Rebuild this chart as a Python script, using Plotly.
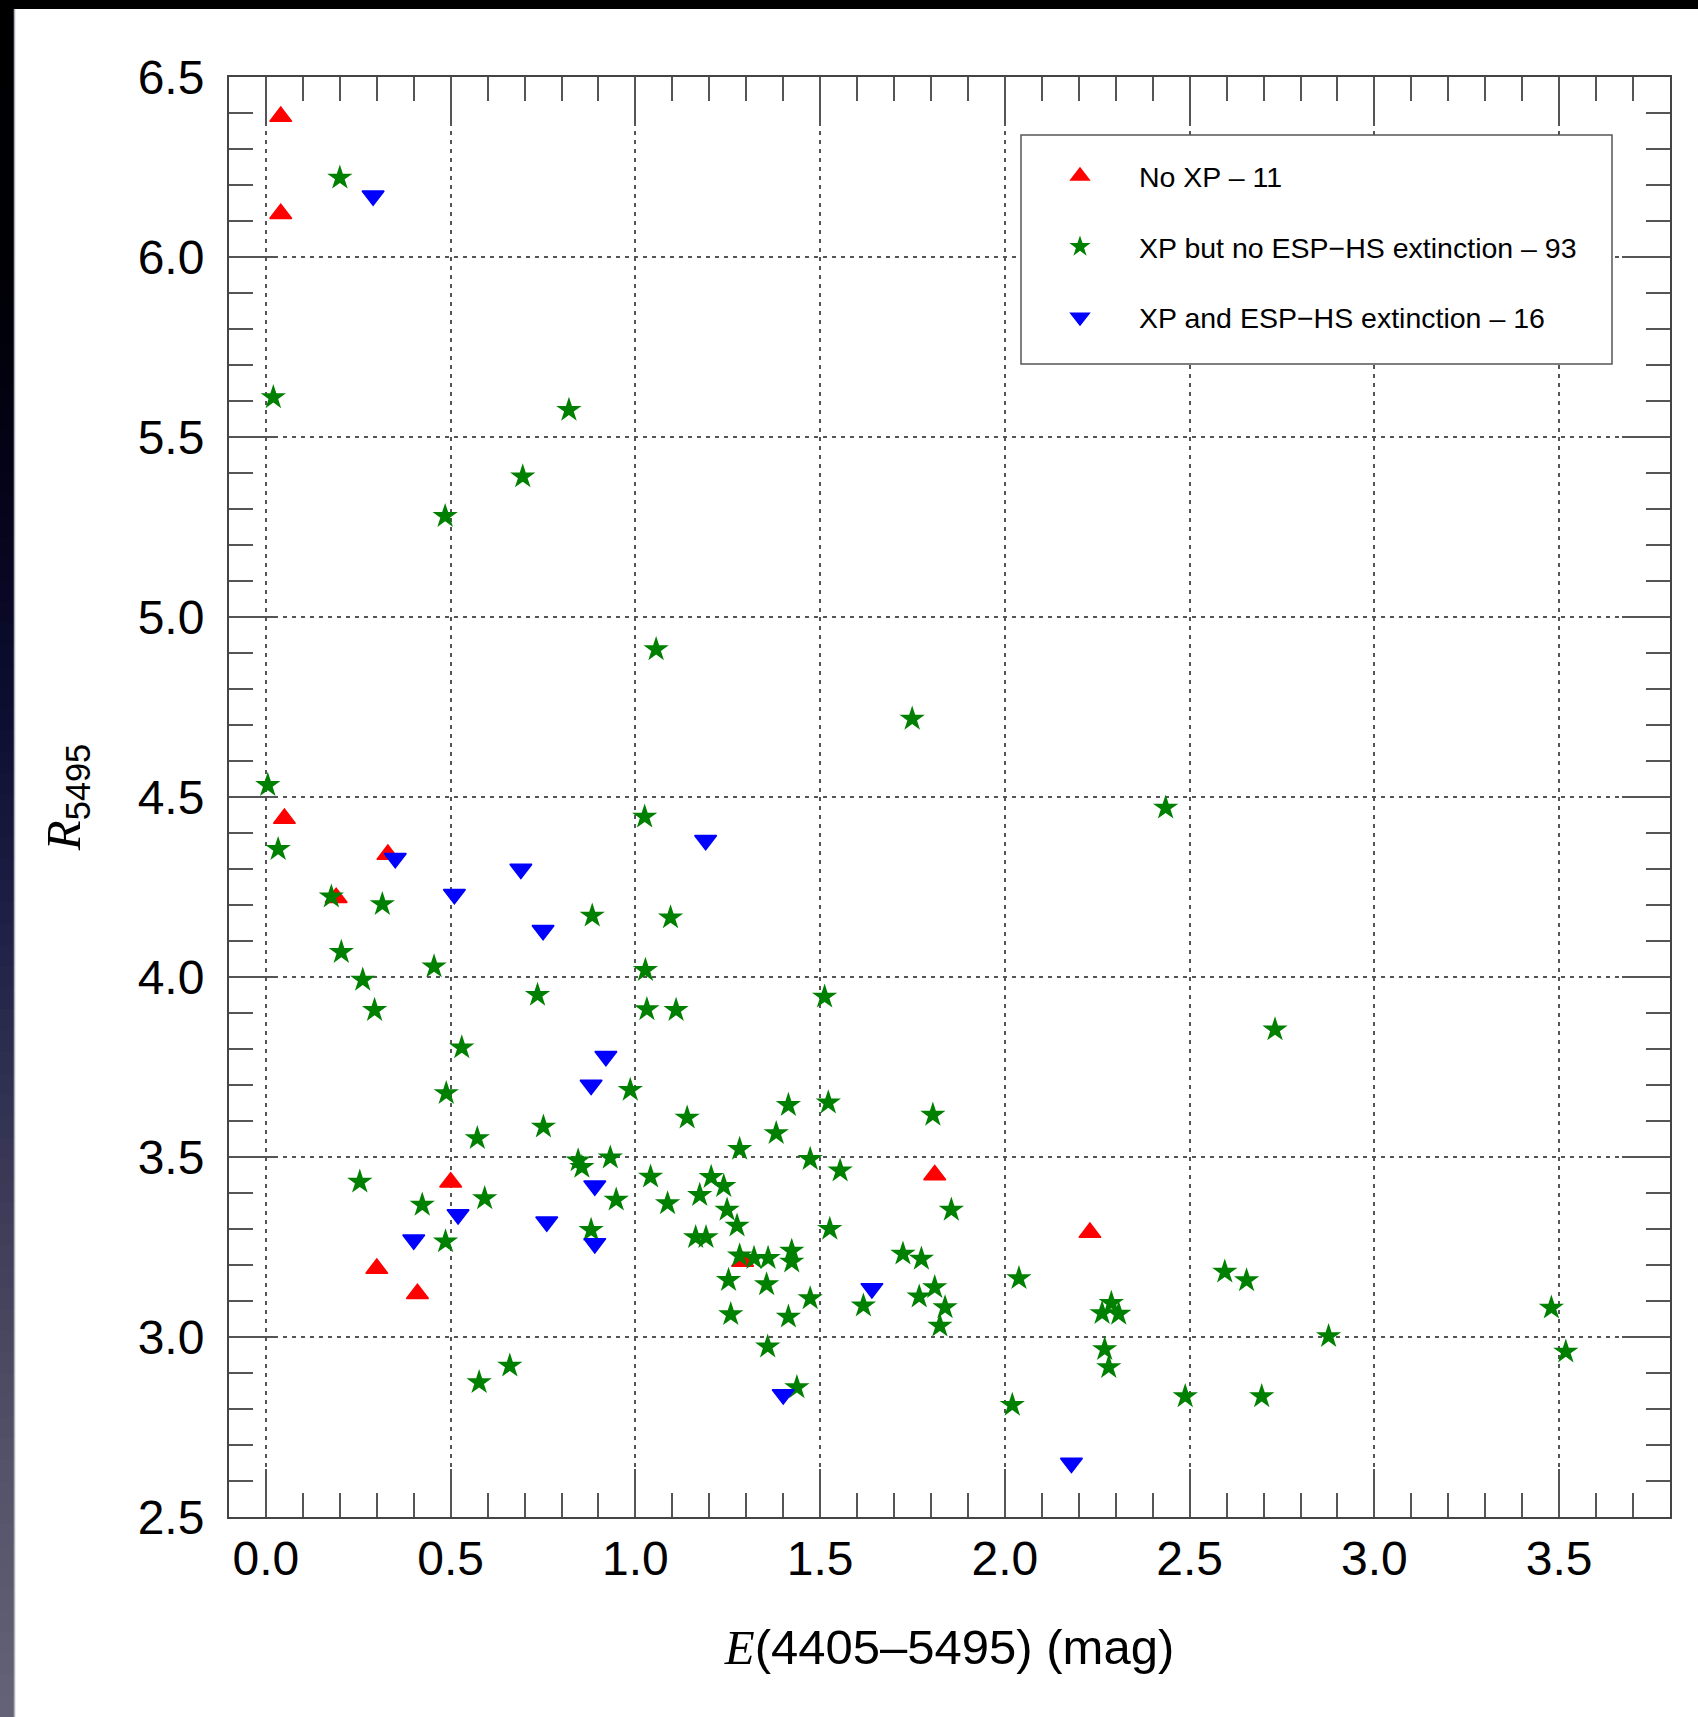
import plotly.graph_objects as go

# ---------------- data ----------------
red_x = [0.04, 0.04, 0.05, 0.33, 0.19, 0.50, 0.30, 0.41, 1.29, 1.81, 2.23]
red_y = [6.39, 6.12, 4.44, 4.34, 4.22, 3.43, 3.19, 3.12, 3.21, 3.45, 3.29]

green_x = [0.20, 0.02, 0.82, 0.695, 0.485, 1.056, 1.749, 2.435,
           0.005, 1.025, 0.033, 0.177, 0.315, 0.883, 1.095,
           0.204, 0.455, 1.027, 0.262, 0.735, 1.512, 0.294,
           1.031, 1.11, 2.731, 0.53, 0.488, 0.986, 1.414,
           1.522, 1.805, 1.14, 0.751, 1.381, 0.572, 1.282,
           0.845, 0.855, 0.932, 1.473, 1.554, 0.254, 1.041,
           1.205, 1.239, 1.174, 0.948, 1.087, 0.423, 0.592,
           1.248, 1.855, 1.275, 1.526, 0.88, 0.486, 1.163,
           1.191, 1.282, 1.321, 1.359, 1.423, 1.423, 1.724,
           1.774, 1.252, 1.355, 1.81, 1.473, 1.617, 1.768,
           1.838, 1.824, 1.258, 1.414, 1.358, 1.437, 2.038,
           2.02, 0.577, 0.66, 2.488, 2.695, 2.876, 2.595,
           2.654, 3.479, 3.518, 2.288, 2.263, 2.308, 2.27, 2.281]
green_y = [6.22, 5.61, 5.575, 5.39, 5.28, 4.91, 4.717, 4.47,
           4.533, 4.445, 4.355, 4.223, 4.202, 4.17, 4.165,
           4.069, 4.029, 4.019, 3.992, 3.95, 3.945, 3.908,
           3.91, 3.908, 3.854, 3.804, 3.677, 3.686, 3.644,
           3.651, 3.617, 3.609, 3.584, 3.566, 3.552, 3.522,
           3.49, 3.472, 3.498, 3.494, 3.462, 3.431, 3.445,
           3.444, 3.419, 3.394, 3.381, 3.371, 3.367, 3.385,
           3.353, 3.353, 3.309, 3.30, 3.297, 3.265, 3.277,
           3.277, 3.226, 3.219, 3.219, 3.239, 3.209, 3.231,
           3.217, 3.158, 3.146, 3.138, 3.107, 3.087, 3.112,
           3.082, 3.031, 3.063, 3.056, 2.973, 2.86, 3.163,
           2.811, 2.874, 2.92, 2.835, 2.835, 3.002, 3.181,
           3.157, 3.081, 2.959, 3.094, 3.066, 3.064, 2.966, 2.916]

blue_x = [0.29, 0.35, 0.51, 0.69, 1.19, 0.75, 0.92, 0.88, 0.89, 0.52, 0.76, 0.40, 0.89, 1.64, 1.40, 2.18]
blue_y = [6.17, 4.33, 4.23, 4.30, 4.38, 4.13, 3.78, 3.70, 3.42, 3.34, 3.32, 3.27, 3.26, 3.135, 2.84, 2.65]

series_names = ["No XP \u2013 11",
                "XP but no ESP\u2212HS extinction \u2013 93",
                "XP and ESP\u2212HS extinction \u2013 16"]

x_ticks = [0.0, 0.5, 1.0, 1.5, 2.0, 2.5, 3.0, 3.5]
y_ticks = [2.5, 3.0, 3.5, 4.0, 4.5, 5.0, 5.5, 6.0, 6.5]

# ---------------- layout geometry ----------------
W, H = 1698, 1717
ML, MR, MT, MB = 229, 28, 77, 200
PW, PH = W - ML - MR, H - MT - MB


def px2x(X):
    return (X - ML) / PW


def px2y(Y):
    return (H - MB - Y) / PH


SANS = "Liberation Sans, Arial, Helvetica, sans-serif"

fig = go.Figure()
fig.add_trace(go.Scatter(
    x=red_x, y=red_y, mode="markers", name=series_names[0], legendgroup="a",
    marker=dict(symbol="triangle-up", size=19, color="#ff0000",
                line=dict(width=1.5, color="#ff0000"))))
fig.add_trace(go.Scatter(
    x=green_x, y=green_y, mode="markers", name=series_names[1], legendgroup="b",
    marker=dict(symbol="star", size=19, color="#008000",
                line=dict(width=0))))
fig.add_trace(go.Scatter(
    x=blue_x, y=blue_y, mode="markers", name=series_names[2], legendgroup="c",
    marker=dict(symbol="triangle-down", size=19, color="#0000ff",
                line=dict(width=1.5, color="#0000ff"))))

shapes = []
# legend frame
shapes.append(dict(type="rect", xref="paper", yref="paper",
                   x0=px2x(1021), x1=px2x(1612), y0=px2y(364), y1=px2y(135),
                   line=dict(color="#555555", width=1.5), fillcolor="white",
                   layer="above"))

# decorative dark frame (top band and left gradient strip)
stops = [(0.0, (0, 0, 0)), (0.15, (0, 0, 4)), (0.30, (4, 4, 28)),
         (0.42, (14, 14, 50)), (0.55, (34, 34, 72)), (0.70, (60, 60, 88)),
         (0.85, (82, 82, 104)), (1.0, (100, 100, 120))]


def grad(t):
    for (t0, c0), (t1, c1) in zip(stops[:-1], stops[1:]):
        if t0 <= t <= t1:
            f = (t - t0) / (t1 - t0)
            return "rgb(%d,%d,%d)" % tuple(round(a + (b - a) * f) for a, b in zip(c0, c1))
    return "rgb(100,100,120)"


NB = 80
for i in range(NB):
    y0 = H * i / NB
    y1 = H * (i + 1) / NB + 1
    shapes.append(dict(type="rect", xref="paper", yref="paper",
                       x0=px2x(0), x1=px2x(14), y0=px2y(y1), y1=px2y(y0),
                       line=dict(width=0), fillcolor=grad((i + 0.5) / NB),
                       layer="below"))
shapes.append(dict(type="line", xref="paper", yref="paper",
                   x0=px2x(14.5), x1=px2x(14.5), y0=px2y(H), y1=px2y(9),
                   line=dict(color="#b0b0b8", width=1.5), layer="below"))
shapes.append(dict(type="rect", xref="paper", yref="paper",
                   x0=px2x(0), x1=px2x(W), y0=px2y(9), y1=px2y(0),
                   line=dict(width=0), fillcolor="black", layer="below"))

axis_common = dict(
    showline=True, linecolor="#444444", linewidth=2, mirror="ticks",
    ticks="inside", ticklen=48, tickwidth=2, tickcolor="#555555",
    showgrid=True, gridcolor="#555555", gridwidth=1.6, griddash="4px,5px",
    zeroline=False, tickformat=".1f",
    tickfont=dict(family=SANS, size=48, color="black"),
)

fig.update_layout(
    width=W, height=H,
    margin=dict(l=ML, r=MR, t=MT, b=MB, pad=0),
    paper_bgcolor="white", plot_bgcolor="white",
    shapes=shapes,
    showlegend=True,
    legend=dict(x=px2x(1021), y=px2y(151), xanchor="left", yanchor="top",
                bgcolor="rgba(0,0,0,0)", borderwidth=0,
                font=dict(family=SANS, size=28.5, color="black"),
                itemwidth=108, tracegroupgap=30.5, traceorder="grouped"),
    xaxis=dict(range=[-0.1, 3.8], tickvals=x_ticks,
               minor=dict(dtick=0.1, tick0=0, ticks="inside", ticklen=24,
                          tickwidth=2, tickcolor="#555555", showgrid=False),
               ticklabelstandoff=-2,
               title=dict(text="<span style=\"font-family:Liberation Serif\"><i>E</i></span>(4405\u20135495) (mag)",
                          font=dict(family=SANS, size=49, color="black"),
                          standoff=46),
               **axis_common),
    yaxis=dict(range=[2.5, 6.5], tickvals=y_ticks,
               minor=dict(dtick=0.1, tick0=2.5, ticks="inside", ticklen=24,
                          tickwidth=2, tickcolor="#555555", showgrid=False),
               ticklabelstandoff=13,
               title=dict(text="<span style=\"font-family:Liberation Serif\"><i>R</i></span><sub>5495</sub>",
                          font=dict(family=SANS, size=49, color="black"),
                          standoff=42),
               **axis_common),
)

fig.write_html("out.html", config={"displayModeBar": False},
               post_script="document.body.style.margin='0px';")
